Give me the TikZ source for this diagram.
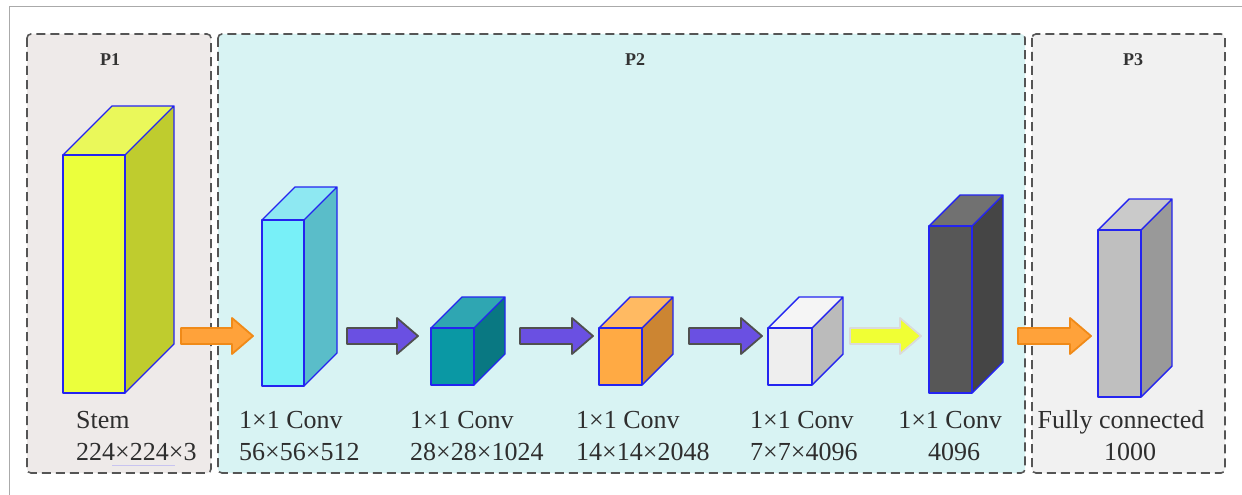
\documentclass[tikz,border=0pt]{standalone}
\usepackage{fontspec}
\setmainfont{Liberation Serif}
\begin{document}
\begin{tikzpicture}[x=1pt,y=-1pt,
  panel/.style={draw=panelline, line width=1.6pt, dash pattern=on 9pt off 5pt, rounded corners=4pt},
  plabel/.style={font=\fontsize{18}{20}\selectfont\bfseries, text=black!80, inner sep=0pt},
  lbl/.style={font=\fontsize{26}{32}\selectfont, text=black!82, inner sep=0pt},
  edge/.style={draw=boxblue, line width=1.4pt, line join=round},
  fat/.style={line width=1.8pt, line join=round}]
\definecolor{panelline}{HTML}{555555}
\definecolor{boxblue}{HTML}{2424F0}
\definecolor{bgA}{HTML}{EEEAE9}
\definecolor{bgB}{HTML}{D8F3F3}
\definecolor{bgC}{HTML}{F1F1F1}
\definecolor{frameline}{HTML}{AAAAAA}
\definecolor{underl}{HTML}{C8C4F0}
% arrow colours
\definecolor{orFill}{HTML}{FFA23A}
\definecolor{orLine}{HTML}{F08A18}
\definecolor{puFill}{HTML}{6A50E2}
\definecolor{puLine}{HTML}{505050}
\definecolor{yeFill}{HTML}{F0FF34}
\definecolor{yeLine}{HTML}{DADADA}
% block colours: front, top, side
\definecolor{stF}{HTML}{EBFF3C}\definecolor{stT}{HTML}{EAF85A}\definecolor{stS}{HTML}{BFCC2E}
\definecolor{cyF}{HTML}{78F0F8}\definecolor{cyT}{HTML}{8EE8F2}\definecolor{cyS}{HTML}{5ABDC9}
\definecolor{tlF}{HTML}{0A98A4}\definecolor{tlT}{HTML}{2FA6B2}\definecolor{tlS}{HTML}{097882}
\definecolor{ogF}{HTML}{FFAA44}\definecolor{ogT}{HTML}{FFBA62}\definecolor{ogS}{HTML}{CC8532}
\definecolor{wtF}{HTML}{EEEEEE}\definecolor{wtT}{HTML}{F5F5F5}\definecolor{wtS}{HTML}{BBBBBB}
\definecolor{dkF}{HTML}{575757}\definecolor{dkT}{HTML}{717171}\definecolor{dkS}{HTML}{454545}
\definecolor{gyF}{HTML}{BFBFBF}\definecolor{gyT}{HTML}{CACACA}\definecolor{gyS}{HTML}{999999}

% cuboid: name, x, y (top of front face), width, height, depth, colour prefix
\newcommand\cuboid[7]{%
  \coordinate (#1) at (#2+0.5*#4,#3+0.5*#5);
  \fill[#7F] (#2,#3) rectangle ++(#4,#5);
  \fill[#7T] (#2,#3) -- ++(#6,-#6) -- ++(#4,0) -- (#2+#4,#3) -- cycle;
  \fill[#7S] (#2+#4,#3) -- ++(#6,-#6) -- ++(0,#5) -- (#2+#4,#3+#5) -- cycle;
  \draw[edge] (#2,#3) rectangle ++(#4,#5);
  \draw[edge] (#2,#3) -- ++(#6,-#6) -- ++(#4,0) -- (#2+#4,#3)
              (#2+#4+#6,#3-#6) -- ++(0,#5) -- (#2+#4,#3+#5);
}
% block arrow: from x1 to x2 at height y, fill, outline
\newcommand\fatarrow[5]{%
  \draw[fat, fill=#4, draw=#5] (#1,#3-8) -- (#2-21,#3-8) -- (#2-21,#3-18) -- (#2,#3)
     -- (#2-21,#3+18) -- (#2-21,#3+8) -- (#1,#3+8) -- cycle;
}

\useasboundingbox (0,0) rectangle (1242,495);
\fill[white] (0,0) rectangle (1242,495);
\draw[frameline, line width=1pt] (9,495) -- (9,7) -- (1242,7);

% stage panels
\path[panel, fill=bgA] (27,34) rectangle (211,473);
\path[panel, fill=bgB] (218,34) rectangle (1025,473);
\path[panel, fill=bgC] (1032,34) rectangle (1225,473);
\node[plabel] (p1) at (110,60) {P1};
\node[plabel] (p2) at (635,60) {P2};
\node[plabel] (p3) at (1133,60) {P3};

% feature blocks
\cuboid{stem}{63}{155}{62}{238}{49}{st}
\cuboid{c1}{262}{220}{42}{166}{33}{cy}
\cuboid{c2}{431}{328}{43}{57}{31}{tl}
\cuboid{c3}{599}{328}{43}{57}{31}{og}
\cuboid{c4}{768}{328}{44}{57}{31}{wt}
\cuboid{c5}{929}{226}{43}{167}{31}{dk}
\cuboid{fc}{1098}{230}{43}{167}{31}{gy}

% block arrows between stages
\fatarrow{181}{253}{336}{orFill}{orLine}
\fatarrow{347}{418}{336}{puFill}{puLine}
\fatarrow{520}{593}{336}{puFill}{puLine}
\fatarrow{689}{762}{336}{puFill}{puLine}
\fatarrow{850}{921}{336}{yeFill}{yeLine}
\fatarrow{1018}{1091}{336}{orFill}{orLine}

% labels
\node[lbl, anchor=base west] (t1a) at (76,428) {Stem};
\node[lbl, anchor=base west] (t1b) at (76,460) {224×224×3};
\draw[underl, line width=0.8pt] (112,465) -- (175,465);
\node[lbl, anchor=base west] (t2a) at (239,428) {1×1 Conv};
\node[lbl, anchor=base west] (t2b) at (239,460) {56×56×512};
\node[lbl, anchor=base west] (t3a) at (410,428) {1×1 Conv};
\node[lbl, anchor=base west] (t3b) at (410,460) {28×28×1024};
\node[lbl, anchor=base west] (t4a) at (576,428) {1×1 Conv};
\node[lbl, anchor=base west] (t4b) at (576,460) {14×14×2048};
\node[lbl, anchor=base west] (t5a) at (750,428) {1×1 Conv};
\node[lbl, anchor=base west] (t5b) at (750,460) {7×7×4096};
\node[lbl, anchor=base] (t6a) at (950,428) {1×1 Conv};
\node[lbl, anchor=base] (t6b) at (954,460) {4096};
\node[lbl, anchor=base] (t7a) at (1121,428) {Fully connected};
\node[lbl, anchor=base] (t7b) at (1130,460) {1000};
\end{tikzpicture}
\end{document}
